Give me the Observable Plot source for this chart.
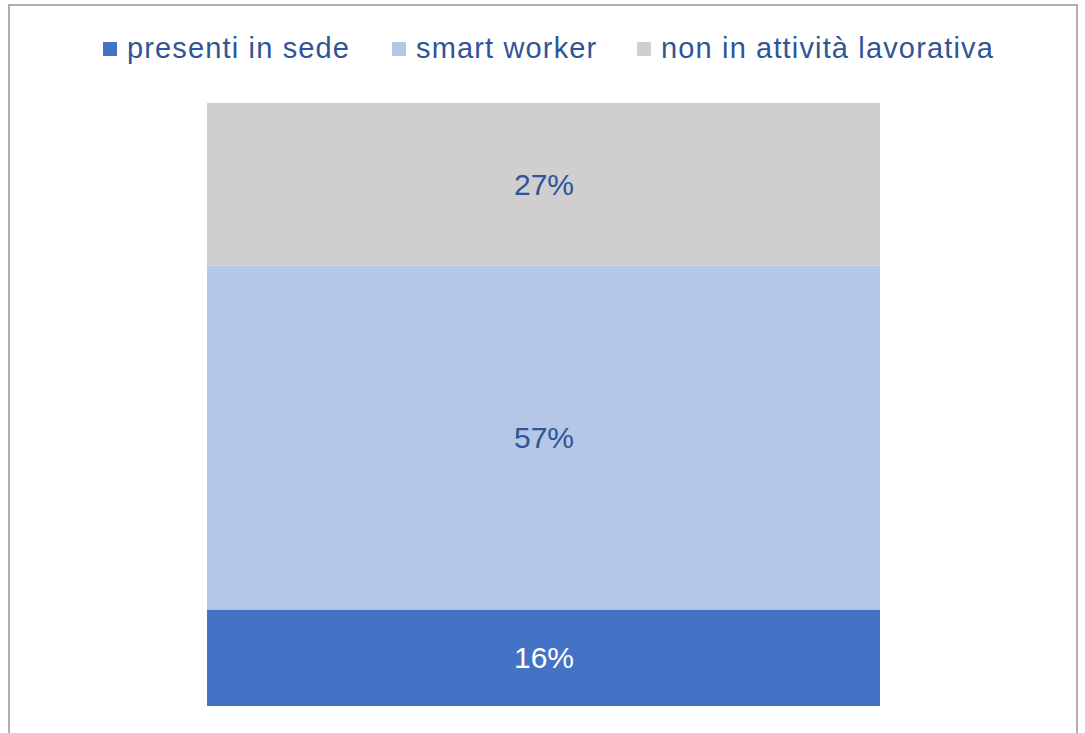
<!DOCTYPE html>
<html>
<head>
<meta charset="utf-8">
<script src="https://cdn.jsdelivr.net/npm/d3@7"></script>
<script src="https://cdn.jsdelivr.net/npm/@observablehq/plot@0.6"></script>
<style>
  html, body { margin: 0; padding: 0; background: #fff; }
  #wrap { position: relative; width: 1085px; height: 733px; overflow: hidden; font-family: "Liberation Sans", Arial, sans-serif; }
  #frame { position: absolute; left: 8px; top: 4px; width: 1070px; height: 760px; border: 2px solid #b0b0b0; box-sizing: border-box; }
  #legend { position: absolute; left: 0; top: 28px; width: 1085px; height: 40px; }
  .item { position: absolute; top: 0; height: 40px; display: flex; align-items: center; }
  .sw { width: 14px; height: 14px; margin-right: 10px; margin-top: 2px; }
  .lab { font-size: 29px; letter-spacing: 1.15px; color: #2F5597; white-space: nowrap; }
  #chart { position: absolute; left: 0; top: 80px; }
</style>
</head>
<body>
<div id="wrap">
  <div id="frame"></div>
  <div id="legend"></div>
  <div id="chart"></div>
</div>
<script>
const categories = ["presenti in sede", "smart worker", "non in attività lavorativa"];
const values = [0.16, 0.57, 0.27];
const labels = ["16%", "57%", "27%"];
const colors = ["#4472C4", "#B4C7E7", "#D0CECE"];
const labelColors = ["#ffffff", "#2F5597", "#2F5597"];
const legendX = [103, 392, 637];

const data = categories.map((c, i) => ({group: "all", cat: c, value: values[i], label: labels[i], lc: labelColors[i]}));

// legend
const legend = document.getElementById("legend");
categories.forEach((c, i) => {
  const it = document.createElement("div");
  it.className = "item";
  it.style.left = legendX[i] + "px";
  const sw = document.createElement("div");
  sw.className = "sw";
  sw.style.background = colors[i];
  const lab = document.createElement("span");
  lab.className = "lab";
  lab.textContent = c;
  it.appendChild(sw);
  it.appendChild(lab);
  legend.appendChild(it);
});

const plot = Plot.plot({
  width: 1085,
  height: 653,
  marginLeft: 207,
  marginRight: 205,
  marginTop: 23,
  marginBottom: 27,
  x: {domain: ["all"], padding: 0, axis: null},
  y: {domain: [0, 1], axis: null},
  color: {domain: categories, range: colors},
  style: {fontFamily: "Liberation Sans, Arial, sans-serif", background: "transparent"},
  marks: [
    Plot.barY(data, Plot.stackY({x: "group", y: "value", fill: "cat", z: "cat", order: null, inset: 0})),
    Plot.text(data, Plot.stackY({x: "group", y: "value", z: "cat", order: null, text: "label", fill: "lc", fontSize: 30}))
  ]
});
document.getElementById("chart").appendChild(plot);
</script>
</body>
</html>
